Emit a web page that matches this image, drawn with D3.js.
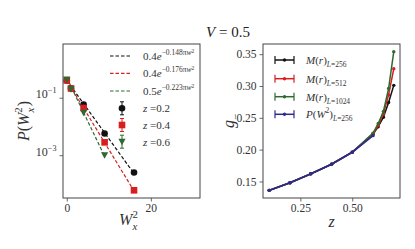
<!DOCTYPE html>
<html>
<head>
<meta charset="utf-8">
<script src="https://cdn.jsdelivr.net/npm/d3@7"></script>
<style>
  body { margin: 0; background: #fff; }
  svg { display: block; font-family: "Liberation Serif", "DejaVu Serif", serif; }
</style>
</head>
<body>
<div id="chart"></div>
<script>
// left panel: P(W_x^2) at V = 0.5
const w2 = [0, 1, 4, 9, 16];
const pZ02 = [0.40, 0.21, 0.058, 0.0057, 2.5e-4];
const pZ04 = [0.40, 0.21, 0.044, 0.0028, 6.0e-5];
const pZ06 = [0.43, 0.20, 0.030, 0.0010];
const fitW2 = [[0, 16], [0, 16], [0, 9]];
const fitP = [[0.40, 2.3e-4], [0.40, 5.7e-5], [0.50, 9.2e-4]];
const fitLabels = [["0.4", "0.148"], ["0.4", "0.176"], ["0.5", "0.223"]];
const zLabels = ["0.2", "0.4", "0.6"];

// right panel: g_- vs z
const zM = [0.1, 0.2, 0.3, 0.4, 0.5, 0.6, 0.625, 0.65, 0.675, 0.7];
const gM256 = [0.136, 0.148, 0.162, 0.177, 0.196, 0.224, 0.236, 0.251, 0.274, 0.301];
const gM512 = [0.136, 0.148, 0.162, 0.177, 0.196, 0.225, 0.238, 0.256, 0.286, 0.327];
const gM1024 = [0.136, 0.148, 0.162, 0.177, 0.196, 0.226, 0.241, 0.260, 0.296, 0.354];
const zP = [0.1, 0.2, 0.3, 0.4, 0.5, 0.6];
const gP256 = [0.136, 0.148, 0.162, 0.177, 0.196, 0.222];
const rightLabels = [["M", "r", "256"], ["M", "r", "512"], ["M", "r", "1024"], ["P", "W", "256"]];

const xTicksL = [0, 20];
const yTicksL = [1e-1, 1e-3];
const xTicksR = [0.25, 0.5];
const yTicksR = [0.15, 0.20, 0.25, 0.30, 0.35];

const colors = ["#111111", "#d81e1e", "#2e6a30", "#2d2a8a"];
const frame = "#444";

const width = 415, height = 249;
const yTop = 44, yBot = 198;
const left1 = 63, right1 = 200, left2 = 263, right2 = 400;

const svg = d3.select("#chart").append("svg")
  .attr("width", width).attr("height", height);

// tspans with sub/superscripts; parts: [text, italic, level, dx]
function mathText(sel, parts, size) {
  let cur = 0;
  parts.forEach(([t, it, lv, dx]) => {
    const s = lv === 0 ? 1 : (Math.abs(lv) === 1 ? 0.68 : 0.5);
    const off = lv === 1 ? -0.42 * size : lv === 2 ? -0.64 * size : lv === -1 ? 0.3 * size : 0;
    sel.append("tspan")
      .attr("font-size", size * s)
      .attr("font-style", it ? "italic" : "normal")
      .attr("dy", off - cur)
      .attr("dx", dx || 0)
      .text(t);
    cur = off;
  });
  return sel;
}

// ---------- left panel ----------
const x1 = d3.scaleLinear().domain([-0.9, 31.7]).range([left1, right1]);
const y1 = d3.scaleLog().domain([Math.pow(10, -4.49), Math.pow(10, 0.87)]).range([yBot, yTop]);

const gxL = svg.append("g").attr("transform", `translate(0,${yBot})`)
  .call(d3.axisBottom(x1).tickValues(xTicksL).tickSize(3.5).tickFormat(d3.format("d")));
const gyL = svg.append("g").attr("transform", `translate(${left1},0)`)
  .call(d3.axisLeft(y1).tickValues(yTicksL).tickSize(3.5).tickFormat(""));
gyL.selectAll(".tick text").each(function(d) {
  const e = Math.round(Math.log10(d));
  d3.select(this).text(null).attr("dy", "0.35em");
  mathText(d3.select(this), [["10", false, 0], ["\u2212" + Math.abs(e), false, 1]], 12);
});

const pSeries = [pZ02, pZ04, pZ06];
const lineL = d3.line().x(d => x1(d[0])).y(d => y1(d[1]));

// dashed fits
fitP.forEach((p, i) => {
  svg.append("path")
    .attr("d", lineL([[fitW2[i][0], p[0]], [fitW2[i][1], p[1]]]))
    .attr("fill", "none").attr("stroke", colors[i])
    .attr("stroke-width", 1.2).attr("stroke-dasharray", "3.5,2");
});

function marker(g, i, cx, cy) {
  if (i === 0) {
    g.append("circle").attr("cx", cx).attr("cy", cy).attr("r", 3.3).attr("fill", colors[0]);
  } else if (i === 1) {
    g.append("rect").attr("x", cx - 3.3).attr("y", cy - 3.3).attr("width", 6.6).attr("height", 6.6).attr("fill", colors[1]);
  } else {
    g.append("path").attr("d", `M${cx - 3.6},${cy - 3} L${cx + 3.6},${cy - 3} L${cx},${cy + 3.6} Z`).attr("fill", colors[2]);
  }
}

const ptsG = svg.append("g");
pSeries.forEach((vals, i) => {
  vals.forEach((v, j) => {
    const cx = x1(w2[j]), cy = y1(v);
    ptsG.append("line").attr("x1", cx).attr("x2", cx).attr("y1", cy - 1.5).attr("y2", cy + 1.5)
      .attr("stroke", colors[i]).attr("stroke-width", 1);
    marker(ptsG, i, cx, cy);
  });
});

// left legend
const legL = svg.append("g");
const rowsL = [56, 73.3, 91, 108.3, 125, 141.7];
fitLabels.forEach((lab, i) => {
  legL.append("line").attr("x1", 110).attr("x2", 131).attr("y1", rowsL[i]).attr("y2", rowsL[i])
    .attr("stroke", colors[i]).attr("stroke-width", 1.2).attr("stroke-dasharray", "3.5,2");
  const t = legL.append("text").attr("x", 143).attr("y", rowsL[i] + 3.8).attr("fill", "#333");
  mathText(t, [[lab[0], false, 0], ["e", true, 0], ["\u2212" + lab[1] + "\u03c0", false, 1], ["w", true, 1], ["2", false, 2]], 11);
});
zLabels.forEach((lab, i) => {
  const cy = rowsL[i + 3], cx = 122;
  legL.append("line").attr("x1", cx).attr("x2", cx).attr("y1", cy - 6.5).attr("y2", cy + 6.5)
    .attr("stroke", colors[i]).attr("stroke-width", 1);
  [cy - 6.5, cy + 6.5].forEach(yy => legL.append("line").attr("x1", cx - 2).attr("x2", cx + 2)
    .attr("y1", yy).attr("y2", yy).attr("stroke", colors[i]).attr("stroke-width", 1));
  marker(legL, i, cx, cy);
  const t = legL.append("text").attr("x", 143).attr("y", cy + 3.8).attr("fill", "#333");
  mathText(t, [["z", true, 0], [" =" + lab, false, 0]], 11);
});

// ---------- right panel ----------
const x2 = d3.scaleLinear().domain([0.07, 0.73]).range([left2, right2]);
const y2 = d3.scaleLinear().domain([0.124, 0.366]).range([yBot, yTop]);

const gxR = svg.append("g").attr("transform", `translate(0,${yBot})`)
  .call(d3.axisBottom(x2).tickValues(xTicksR).tickSize(3.5).tickFormat(d3.format(".2f")));
const gyR = svg.append("g").attr("transform", `translate(${left2},0)`)
  .call(d3.axisLeft(y2).tickValues(yTicksR).tickSize(3.5).tickFormat(d3.format(".2f")));

const seriesR = [[zM, gM256], [zM, gM512], [zM, gM1024], [zP, gP256]];
const lineR = d3.line().x(d => x2(d[0])).y(d => y2(d[1]));
seriesR.forEach(([zs, gs], i) => {
  const pts = zs.map((z, j) => [z, gs[j]]);
  svg.append("path").attr("d", lineR(pts)).attr("fill", "none")
    .attr("stroke", colors[i]).attr("stroke-width", i === 3 ? 1.8 : 1.5);
  svg.append("g").selectAll("circle").data(pts).join("circle")
    .attr("cx", d => x2(d[0])).attr("cy", d => y2(d[1])).attr("r", 1.7)
    .attr("fill", colors[i]);
});

// right legend
const legR = svg.append("g");
const rowsR = [60, 78.7, 96.7, 114.3];
rightLabels.forEach((lab, i) => {
  const cy = rowsR[i];
  legR.append("line").attr("x1", 275).attr("x2", 294).attr("y1", cy).attr("y2", cy)
    .attr("stroke", colors[i]).attr("stroke-width", 1.5);
  [275, 294].forEach(xx => legR.append("line").attr("x1", xx).attr("x2", xx)
    .attr("y1", cy - 4).attr("y2", cy + 4).attr("stroke", colors[i]).attr("stroke-width", 1.2));
  legR.append("circle").attr("cx", 284.5).attr("cy", cy).attr("r", 1.7).attr("fill", colors[i]);
  const t = legR.append("text").attr("x", 306).attr("y", cy + 3.8).attr("fill", "#333");
  const parts = [[lab[0], true, 0], ["(", false, 0], [lab[1], true, 0]];
  if (lab[1] === "W") parts.push(["2", false, 1]);
  parts.push([")", false, 0], ["L", true, -1], ["=" + lab[2], false, -1]);
  mathText(t, parts, 11);
});

// axis styling
[gxL, gyL, gxR, gyR].forEach(g => {
  g.select(".domain").remove();
  g.selectAll(".tick line").attr("stroke", frame).attr("stroke-width", 0.8);
  g.selectAll(".tick text").attr("fill", "#333").attr("font-size", 11.5)
    .attr("font-family", "'Liberation Serif', serif");
});
[gxL, gxR].forEach(g => g.selectAll(".tick text").attr("y", 6));

// frames
[[left1, right1], [left2, right2]].forEach(([a, b]) => {
  svg.append("rect").attr("x", a).attr("y", yTop).attr("width", b - a).attr("height", yBot - yTop)
    .attr("fill", "none").attr("stroke", frame).attr("stroke-width", 1);
});

// axis labels
const xl1 = svg.append("text").attr("x", (left1 + right1) / 2 - 3).attr("y", 225)
  .attr("text-anchor", "middle").attr("fill", "#333");
mathText(xl1, [["W", true, 0], ["2", false, 1], ["x", true, -1, -5.4]], 16);

const yl1 = svg.append("text").attr("transform", `translate(29,${(yTop + yBot) / 2}) rotate(-90)`)
  .attr("text-anchor", "middle").attr("fill", "#333");
mathText(yl1, [["P", true, 0], ["(", false, 0], ["W", true, 0], ["2", false, 1], ["x", true, -1, -5.4], [")", false, 0, 1.5]], 16);

const xl2 = svg.append("text").attr("x", (left2 + right2) / 2).attr("y", 227)
  .attr("text-anchor", "middle").attr("fill", "#333");
mathText(xl2, [["z", true, 0]], 16);

const yl2 = svg.append("text").attr("transform", `translate(234,${(yTop + yBot) / 2}) rotate(-90)`)
  .attr("text-anchor", "middle").attr("fill", "#333");
mathText(yl2, [["g", true, 0], ["\u2212", false, -1]], 16);

// title
const title = svg.append("text").attr("x", 228).attr("y", 36.5)
  .attr("text-anchor", "middle").attr("fill", "#222");
mathText(title, [["V", true, 0], [" = 0.5", false, 0]], 15);
</script>
</body>
</html>
